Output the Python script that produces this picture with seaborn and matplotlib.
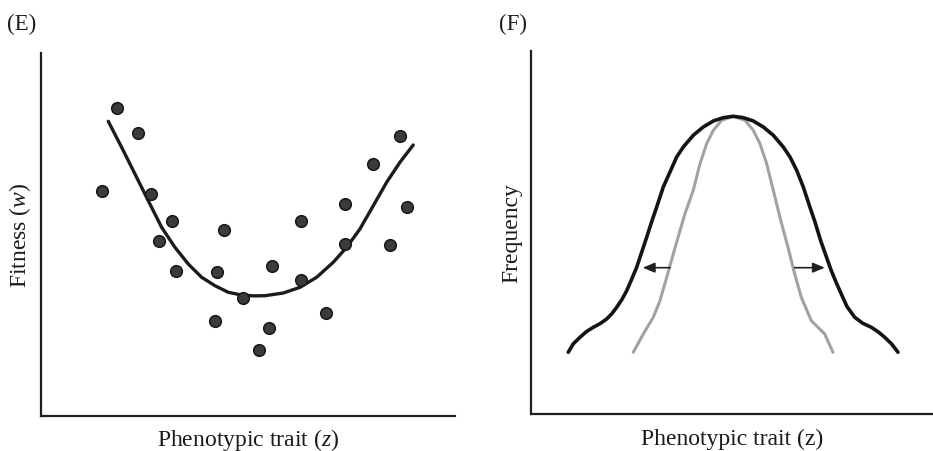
import matplotlib
matplotlib.use("Agg")
import matplotlib.pyplot as plt
import seaborn as sns
import pandas as pd

# Panel E: individual fitness against phenotype
trait_z = [1.466, 1.829, 2.350, 2.657, 3.172, 2.850, 3.254, 4.428, 4.251, 4.886,
           4.203, 5.258, 5.514, 5.580, 6.273, 6.273, 6.884, 7.350, 7.350, 8.012,
           8.430, 8.671, 8.833]
fitness_w = [6.190, 8.485, 7.804, 6.116, 5.364, 4.813, 4.003, 5.124, 3.975, 3.251,
             2.617, 1.810, 2.433, 4.141, 5.380, 3.755, 2.837, 5.840, 4.738, 6.942,
             4.711, 7.705, 5.766]

# Fitted fitness function
fit_z = [1.626, 1.949, 2.271, 2.592, 2.915, 3.237, 3.558, 3.882, 4.203, 4.524,
         4.848, 5.130, 5.411, 5.853, 6.256, 6.659, 7.060, 7.384, 7.705, 8.027,
         8.350, 8.671, 8.993]
fit_w = [8.118, 7.402, 6.667, 5.931, 5.198, 4.647, 4.187, 3.821, 3.590, 3.408,
         3.333, 3.310, 3.314, 3.388, 3.545, 3.821, 4.234, 4.647, 5.152, 5.793,
         6.438, 6.989, 7.466]

# Panel F: phenotype distributions before (grey) and after (black) selection
after_z = [0.928, 1.050, 1.219, 1.380, 1.550, 1.720, 1.883, 2.010, 2.132, 2.260,
           2.381, 2.500, 2.629, 2.878, 3.000, 3.127, 3.291, 3.458, 3.624, 3.789,
           4.037, 4.286, 4.535, 4.784, 5.032, 5.281, 5.530, 5.779, 6.027, 6.276,
           6.443, 6.609, 6.774, 6.937, 7.064, 7.210, 7.470, 7.600, 7.719, 7.860,
           8.052, 8.250, 8.465, 8.640, 8.799, 8.970, 9.129]
after_freq = [1.700, 1.930, 2.113, 2.270, 2.388, 2.490, 2.617, 2.760, 2.939, 3.150,
              3.397, 3.700, 4.041, 4.868, 5.290, 5.702, 6.253, 6.667, 7.080, 7.355,
              7.678, 7.906, 8.072, 8.163, 8.201, 8.163, 8.072, 7.906, 7.678, 7.355,
              7.080, 6.713, 6.253, 5.702, 5.290, 4.760, 3.948, 3.600, 3.306, 2.960,
              2.664, 2.500, 2.388, 2.260, 2.113, 1.930, 1.700]
before_z = [2.545, 2.794, 3.042, 3.209, 3.376, 3.540, 3.706, 3.840, 4.037, 4.204,
            4.371, 4.535, 4.744, 5.032, 5.323, 5.530, 5.697, 5.863, 6.027, 6.190,
            6.393, 6.560, 6.724, 6.973, 7.306, 7.512]
before_freq = [1.700, 2.204, 2.664, 3.121, 3.766, 4.408, 5.050, 5.550, 6.163, 6.895,
               7.446, 7.815, 8.091, 8.201, 8.091, 7.815, 7.446, 6.895, 6.163, 5.430,
               4.592, 3.857, 3.215, 2.570, 2.204, 1.700]

sns.set_theme(style="white")
plt.rcParams["font.family"] = ["Liberation Serif", "DejaVu Serif"]
plt.rcParams["mathtext.fontset"] = "custom"
plt.rcParams["mathtext.rm"] = "Liberation Serif"
plt.rcParams["mathtext.it"] = "Liberation Serif:italic"
plt.rcParams["lines.solid_joinstyle"] = "round"
plt.rcParams["lines.solid_capstyle"] = "round"

fig = plt.figure(figsize=(9.33, 4.52), dpi=100)
ax_e = fig.add_axes([0.0439, 0.0774, 0.4437, 0.8031])
ax_f = fig.add_axes([0.5691, 0.0819, 0.4309, 0.8031])

points = pd.DataFrame({"z": trait_z, "w": fitness_w})
curve = pd.DataFrame({"z": fit_z, "w": fit_w})
sns.lineplot(data=curve, x="z", y="w", ax=ax_e, color="#1c1c1c", lw=2.4,
             sort=False, estimator=None)
sns.scatterplot(data=points, x="z", y="w", ax=ax_e, s=70, color="#3b3b3b",
                edgecolor="#161616", linewidth=1.1, zorder=3)

after = pd.DataFrame({"z": after_z, "f": after_freq})
before = pd.DataFrame({"z": before_z, "f": before_freq})
sns.lineplot(data=before, x="z", y="f", ax=ax_f, color="#a2a2a2", lw=2.2,
             sort=False, estimator=None)
sns.lineplot(data=after, x="z", y="f", ax=ax_f, color="#141414", lw=2.6,
             sort=False, estimator=None)

arrow = dict(arrowstyle="-|>,head_length=0.6,head_width=0.25", color="#202020",
             lw=1.2, shrinkA=0, shrinkB=0)
ax_f.annotate("", xy=(2.78, 4.03), xytext=(3.46, 4.03), arrowprops=arrow)
ax_f.annotate("", xy=(7.31, 4.03), xytext=(6.56, 4.03), arrowprops=arrow)

for ax in (ax_e, ax_f):
    ax.set_xlim(0, 10)
    ax.set_ylim(0, 10)
    ax.set_xticks([])
    ax.set_yticks([])
    sns.despine(ax=ax)
    for side in ("left", "bottom"):
        ax.spines[side].set_linewidth(1.6)
        ax.spines[side].set_color("#1e1e1e")

label_kw = dict(fontsize=17, color="#1a1a1a")
ax_e.set_xlabel("Phenotypic trait ($z$)", labelpad=7, **label_kw)
ax_e.set_ylabel("Fitness ($w$)", labelpad=6, **label_kw)
ax_f.set_xlabel("Phenotypic trait (z)", labelpad=10, **label_kw)
ax_f.set_ylabel("Frequency", labelpad=6, **label_kw)

fig.text(22 / 933, 1 - 24 / 452, "(E)", fontsize=16.5, ha="center", va="center",
         color="#1a1a1a")
fig.text(513 / 933, 1 - 24 / 452, "(F)", fontsize=16.5, ha="center", va="center",
         color="#1a1a1a")

fig.savefig("out.png", dpi=100)
